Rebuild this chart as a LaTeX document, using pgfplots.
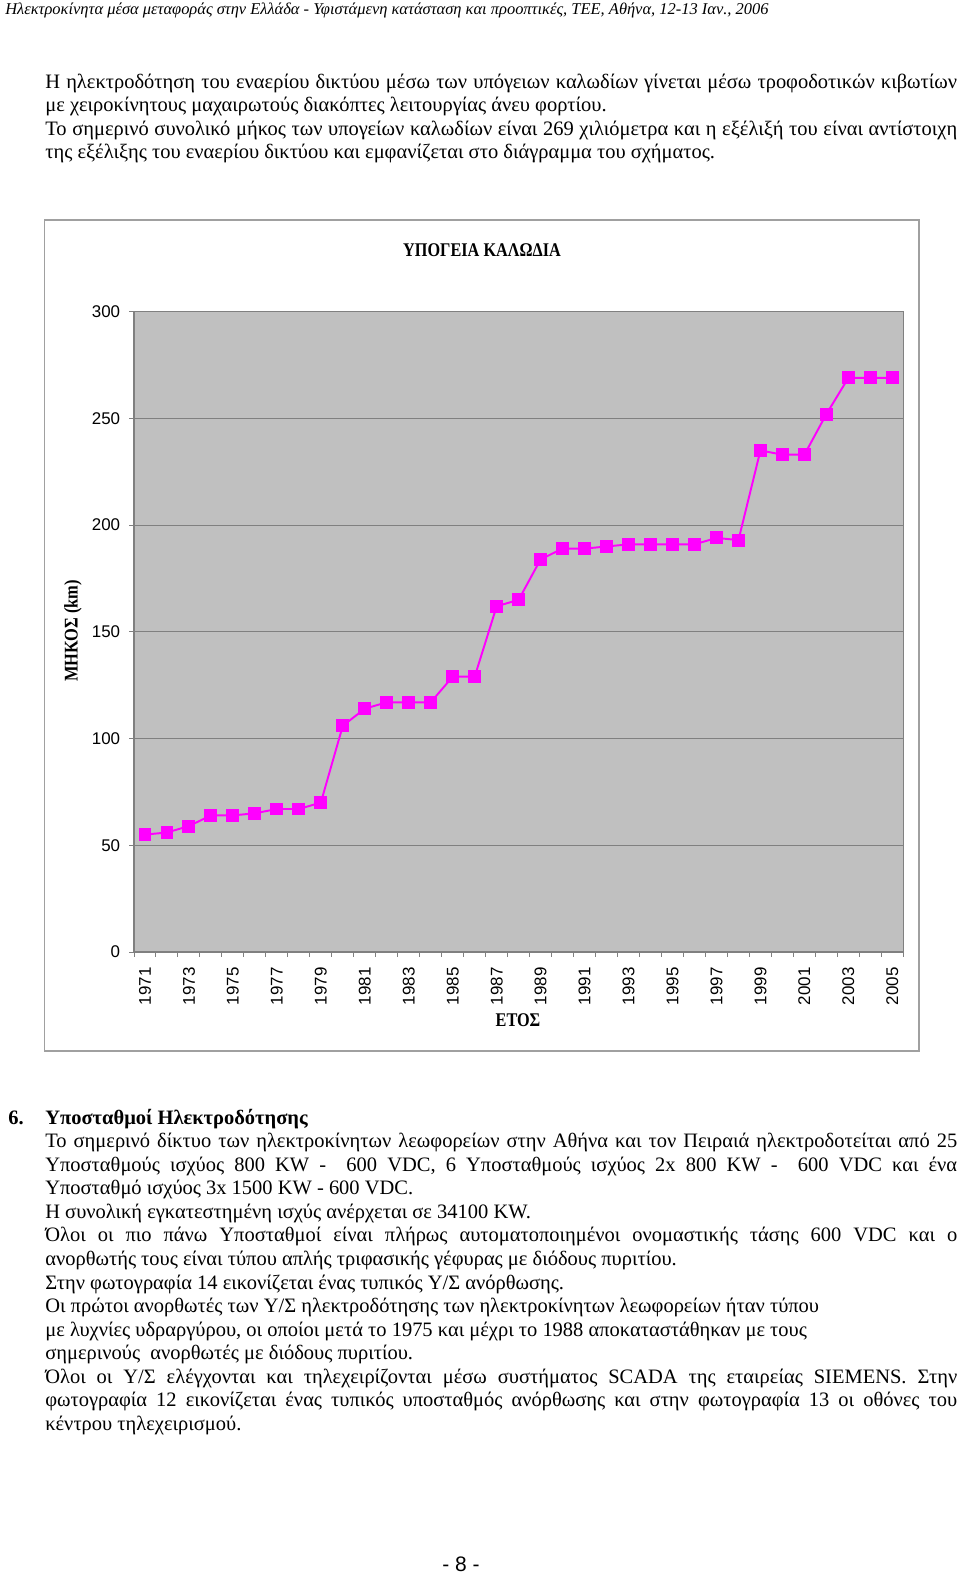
\documentclass[border=0pt]{standalone}
\usepackage{fontspec}
\setmainfont{Liberation Serif}
\newfontfamily\chartsans{Liberation Sans}
\usepackage{graphicx}
\usepackage{pgfplots}
\pgfplotsset{compat=1.18}
\definecolor{plotbg}{HTML}{C0C0C0}
\definecolor{gridgray}{HTML}{808080}
\definecolor{framegray}{HTML}{A0A0A0}
\definecolor{linemag}{HTML}{FF00FF}
\newcommand{\body}{\fontsize{12.7}{14}\selectfont}
\newcommand{\J}[1]{\makebox[565.4pt][s]{#1}}
\begin{document}
\begin{tikzpicture}
\path[use as bounding box] (0,0) rectangle (595.2pt,-975.88pt);
\begin{scope}[x=0.62pt,y=-0.62pt]
% header
\node[inner sep=0, anchor=base west, font=\fontsize{10.2}{12}\selectfont\itshape] at (5,15) {Ηλεκτροκίνητα μέσα μεταφοράς στην Ελλάδα - Υφιστάμενη κατάσταση και προοπτικές, ΤΕΕ, Αθήνα, 12-13 Ιαν., 2006};
% first paragraph
\node[inner sep=0, anchor=base west, font=\body] at (45,88.5) {\J{Η ηλεκτροδότηση του εναερίου δικτύου μέσω των υπόγειων καλωδίων γίνεται μέσω τροφοδοτικών κιβωτίων}};
\node[inner sep=0, anchor=base west, font=\body] at (45,111.9) {με χειροκίνητους μαχαιρωτούς διακόπτες λειτουργίας άνευ φορτίου.};
\node[inner sep=0, anchor=base west, font=\body] at (45,135.3) {\J{Το σημερινό συνολικό μήκος των υπογείων καλωδίων είναι 269 χιλιόμετρα και η εξέλιξή του είναι αντίστοιχη}};
\node[inner sep=0, anchor=base west, font=\body] at (45,158.7) {της εξέλιξης του εναερίου δικτύου και εμφανίζεται στο διάγραμμα του σχήματος.};
% chart frame
\draw[framegray, line width=0.8pt] (44.5,220) rectangle (919,1051);
\node[inner sep=0, font=\fontsize{12}{14}\selectfont\bfseries] at (482,250) {\scalebox{0.84}[1]{ΥΠΟΓΕΙΑ ΚΑΛΩΔΙΑ}};
\node[inner sep=0, rotate=90, font=\fontsize{12}{14}\selectfont\bfseries] at (73,631) {\scalebox{0.85}[1]{ΜΗΚΟΣ (km)}};
\node[inner sep=0, font=\fontsize{12}{14}\selectfont\bfseries] at (518,1020) {\scalebox{0.84}[1]{ΕΤΟΣ}};
% section 6
\node[inner sep=0, anchor=base west, font=\body\bfseries] at (8,1124.2) {6.};
\node[inner sep=0, anchor=base west, font=\body\bfseries] at (45,1124.2) {Υποσταθμοί Ηλεκτροδότησης};
\node[inner sep=0, anchor=base west, font=\body] at (45,1147.75) {\J{Το σημερινό δίκτυο των ηλεκτροκίνητων λεωφορείων στην Αθήνα και τον Πειραιά ηλεκτροδοτείται από 25}};
\node[inner sep=0, anchor=base west, font=\body] at (45,1171.3) {\J{Υποσταθμούς ισχύος 800 KW -~ 600 VDC, 6 Υποσταθμούς ισχύος 2x 800 KW -~ 600 VDC και ένα}};
\node[inner sep=0, anchor=base west, font=\body] at (45,1194.85) {Υποσταθμό ισχύος 3x 1500 KW -~600 VDC.};
\node[inner sep=0, anchor=base west, font=\body] at (45,1218.4) {Η συνολική εγκατεστημένη ισχύς ανέρχεται σε 34100 KW.};
\node[inner sep=0, anchor=base west, font=\body] at (45,1241.95) {\J{Όλοι οι πιο πάνω Υποσταθμοί είναι πλήρως αυτοματοποιημένοι ονομαστικής τάσης 600 VDC και ο}};
\node[inner sep=0, anchor=base west, font=\body] at (45,1265.5) {ανορθωτής τους είναι τύπου απλής τριφασικής γέφυρας με διόδους πυριτίου.};
\node[inner sep=0, anchor=base west, font=\body] at (45,1289.05) {Στην φωτογραφία 14 εικονίζεται ένας τυπικός Υ/Σ ανόρθωσης.};
\node[inner sep=0, anchor=base west, font=\body] at (45,1312.6) {Οι πρώτοι ανορθωτές των Υ/Σ ηλεκτροδότησης των ηλεκτροκίνητων λεωφορείων ήταν τύπου};
\node[inner sep=0, anchor=base west, font=\body] at (45,1336.15) {με λυχνίες υδραργύρου, οι οποίοι μετά το 1975 και μέχρι το 1988 αποκαταστάθηκαν με τους};
\node[inner sep=0, anchor=base west, font=\body] at (45,1359.7) {σημερινούς~ ανορθωτές με διόδους πυριτίου.};
\node[inner sep=0, anchor=base west, font=\body] at (45,1383.25) {\J{Όλοι οι Υ/Σ ελέγχονται και τηλεχειρίζονται μέσω συστήματος SCADA της εταιρείας SIEMENS. Στην}};
\node[inner sep=0, anchor=base west, font=\body] at (45,1406.8) {\J{φωτογραφία 12 εικονίζεται ένας τυπικός υποσταθμός ανόρθωσης και στην φωτογραφία 13 οι οθόνες του}};
\node[inner sep=0, anchor=base west, font=\body] at (45,1430.35) {κέντρου τηλεχειρισμού.};
% page number
\node[inner sep=0, font=\chartsans\fontsize{13}{15}\selectfont] at (461,1564) {-\ 8\ -};
\end{scope}
\begin{axis}[
  at={(83.08pt,-590.24pt)}, anchor=south west,
  scale only axis, width=476.97pt, height=396.99pt,
  xmin=1970.5, xmax=2005.5, ymin=0, ymax=300,
  xtick={1971,1973,...,2005},
  minor xtick={1970.5,1971.5,...,2005.5},
  ytick={0,50,...,300},
  minor ytick={0,50,...,300},
  major tick length=0pt, minor tick length=3pt,
  tick align=outside,
  xtick pos=left, ytick pos=left,
  ymajorgrids,
  grid style={draw=gridgray, line width=0.6pt},
  axis background/.style={fill=plotbg},
  axis line style={draw=gridgray, line width=0.9pt},
  every tick/.style={draw=gridgray, line width=0.6pt},
  tick label style={font=\chartsans\fontsize{10.5}{12}\selectfont},
  /pgf/number format/assume math mode=true,
  /pgf/number format/1000 sep={},
  xticklabel style={rotate=90, anchor=east, inner sep=0pt},
  xticklabel shift=9.3pt,
  yticklabel style={anchor=east, inner sep=0pt},
  yticklabel shift=8.4pt,
]
\addplot[color=linemag, line width=1.2pt, mark=square*, mark size=3.7pt,
  mark options={solid, fill=linemag, draw=linemag, line width=0pt}]
coordinates {
(1971,55) (1972,56) (1973,59) (1974,64) (1975,64) (1976,65) (1977,67)
(1978,67) (1979,70) (1980,106) (1981,114) (1982,117) (1983,117) (1984,117)
(1985,129) (1986,129) (1987,162) (1988,165) (1989,184) (1990,189) (1991,189)
(1992,190) (1993,191) (1994,191) (1995,191) (1996,191) (1997,194) (1998,193)
(1999,235) (2000,233) (2001,233) (2002,252) (2003,269) (2004,269) (2005,269)
};
\end{axis}
\end{tikzpicture}
\end{document}
